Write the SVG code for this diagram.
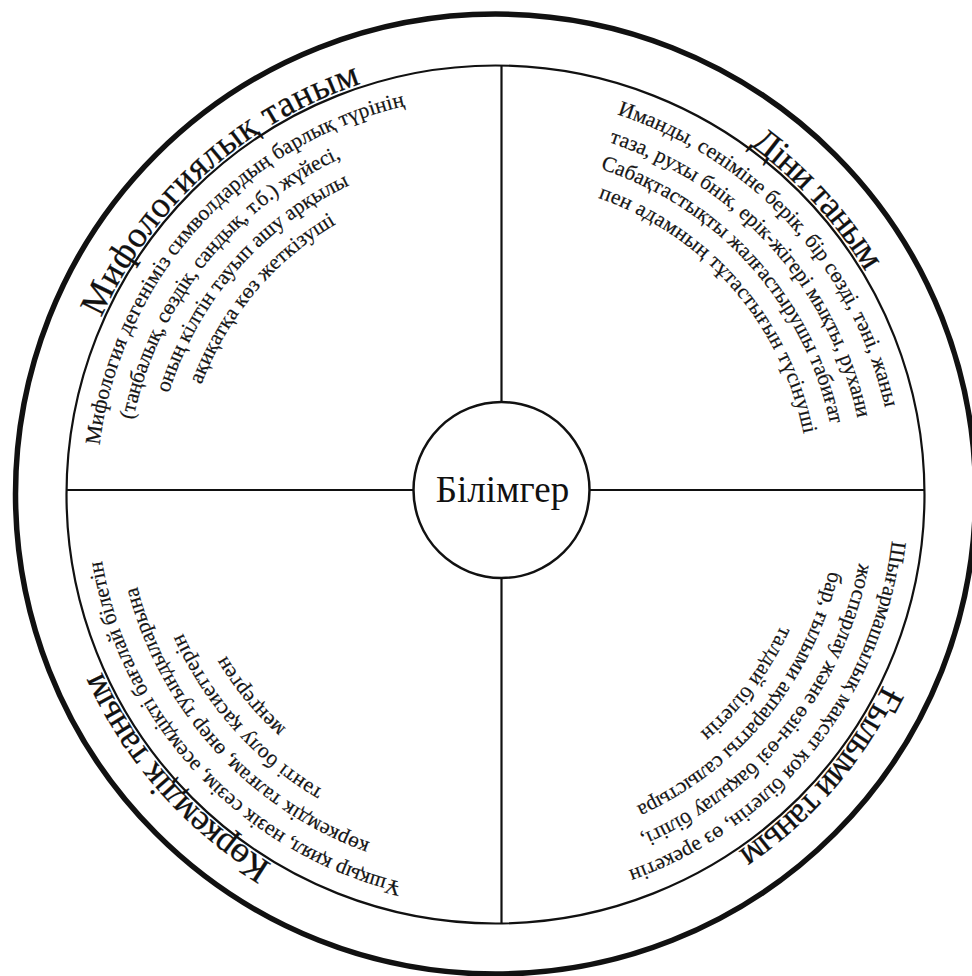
<svg xmlns="http://www.w3.org/2000/svg" xmlns:xlink="http://www.w3.org/1999/xlink" width="972" height="976" viewBox="0 0 972 976">
<style>
.ring{fill:none;stroke:#111;}
.line{stroke:#111;stroke-width:2.2;fill:none;}
.title{font-family:"Liberation Serif","DejaVu Serif",serif;font-size:36.5px;fill:#111;stroke:#111;stroke-width:0.25;}
.body{font-family:"Liberation Serif","DejaVu Serif",serif;font-size:21.5px;fill:#151515;stroke:#151515;stroke-width:0.2;}
.center{font-family:"Liberation Serif","DejaVu Serif",serif;font-size:37px;fill:#111;}
</style>
<defs>
<path id="a432" d="M65.15,456.85 A432,432 0 0 1 925.85,456.85"/>
<path id="a399" d="M98.02,459.72 A399,399 0 0 1 892.98,459.72"/>
<path id="a370" d="M126.91,462.25 A370,370 0 0 1 864.09,462.25"/>
<path id="a342" d="M154.80,464.69 A342,342 0 0 1 836.20,464.69"/>
<path id="a314" d="M182.70,467.13 A314,314 0 0 1 808.30,467.13"/>
</defs>
<rect width="972" height="976" fill="#fff"/>
<g id="rings">
<circle class="ring" cx="495.5" cy="494" r="480" stroke-width="5.5"/>
<circle class="ring" cx="495.5" cy="494.5" r="429" stroke-width="2.2"/>
</g>
<g id="connectors">
<line class="line" x1="66.5" y1="490" x2="924.5" y2="490"/>
<line class="line" x1="501.5" y1="65.5" x2="501.5" y2="923.5"/>
</g>
<g id="node-mythological">
<text class="title" text-anchor="middle" transform="rotate(-42 495.5 494.5)"><textPath xlink:href="#a432" href="#a432" startOffset="50%" textLength="360">Мифологиялық таным</textPath></text>
<text class="body" text-anchor="middle" transform="rotate(-48 495.5 494.5)"><textPath xlink:href="#a399" href="#a399" startOffset="50%" textLength="486">Мифология дегеніміз символдардың барлық түрінің</textPath></text>
<text class="body" text-anchor="middle" transform="rotate(-51.5 495.5 494.5)"><textPath xlink:href="#a370" href="#a370" startOffset="50%" textLength="347">(таңбалық, сөздік, сандық, т.б.) жүйесі,</textPath></text>
<text class="body" text-anchor="middle" transform="rotate(-49 495.5 494.5)"><textPath xlink:href="#a342" href="#a342" startOffset="50%" textLength="284">оның кілтін тауып ашу арқылы</textPath></text>
<text class="body" text-anchor="middle" transform="rotate(-50 495.5 494.5)"><textPath xlink:href="#a314" href="#a314" startOffset="50%" textLength="214">ақиқатқа көз жеткізуші</textPath></text>
</g>
<g id="node-religious">
<text class="title" text-anchor="middle" transform="rotate(47.5 495.5 494.5)"><textPath xlink:href="#a432" href="#a432" startOffset="50%" textLength="173">Діни таным</textPath></text>
<text class="body" text-anchor="middle" transform="rotate(47.6 495.5 494.5)"><textPath xlink:href="#a399" href="#a399" startOffset="50%" textLength="416">Иманды, сеніміне берік, бір сөзді, тәні, жаны</textPath></text>
<text class="body" text-anchor="middle" transform="rotate(48 495.5 494.5)"><textPath xlink:href="#a370" href="#a370" startOffset="50%" textLength="389">таза, рухы бнік, ерік-жігері мықты, рухани</textPath></text>
<text class="body" text-anchor="middle" transform="rotate(48 495.5 494.5)"><textPath xlink:href="#a342" href="#a342" startOffset="50%" textLength="360">Сабақтастықты жалғастырушы табиғат</textPath></text>
<text class="body" text-anchor="middle" transform="rotate(49 495.5 494.5)"><textPath xlink:href="#a314" href="#a314" startOffset="50%" textLength="328">пен адамның тұтастығын түсінуші</textPath></text>
</g>
<g id="node-scientific">
<text class="title" text-anchor="middle" transform="rotate(131 495.5 494.5)"><textPath xlink:href="#a432" href="#a432" startOffset="50%" textLength="224">Ғылыми таным</textPath></text>
<text class="body" text-anchor="middle" transform="rotate(128.6 495.5 494.5)"><textPath xlink:href="#a399" href="#a399" startOffset="50%" textLength="445">Шығармашылық мақсат қоя білетін, өз әрекетін</textPath></text>
<text class="body" text-anchor="middle" transform="rotate(128.9 495.5 494.5)"><textPath xlink:href="#a370" href="#a370" startOffset="50%" textLength="364">жоспарлау және өзін-өзі бақылау білігі,</textPath></text>
<text class="body" text-anchor="middle" transform="rotate(129.3 495.5 494.5)"><textPath xlink:href="#a342" href="#a342" startOffset="50%" textLength="315">бар, ғылыми ақпаратты салыстыра</textPath></text>
<text class="body" text-anchor="middle" transform="rotate(127 495.5 494.5)"><textPath xlink:href="#a314" href="#a314" startOffset="50%" textLength="135">талдай білетін</textPath></text>
</g>
<g id="node-artistic">
<text class="title" text-anchor="middle" transform="rotate(-131.5 495.5 494.5)"><textPath xlink:href="#a432" href="#a432" startOffset="50%" textLength="261">Көркемдік таным</textPath></text>
<text class="body" text-anchor="middle" transform="rotate(-133 495.5 494.5)"><textPath xlink:href="#a399" href="#a399" startOffset="50%" textLength="466">Ұшқыр қиял, нәзік сезім, әсемдікті бағалай білетін</textPath></text>
<text class="body" text-anchor="middle" transform="rotate(-132.3 495.5 494.5)"><textPath xlink:href="#a370" href="#a370" startOffset="50%" textLength="360">көркемдік талғам, өнер туындыларына</textPath></text>
<text class="body" text-anchor="middle" transform="rotate(-131.8 495.5 494.5)"><textPath xlink:href="#a342" href="#a342" startOffset="50%" textLength="214">тәнті болу қасиеттерін</textPath></text>
<text class="body" text-anchor="middle" transform="rotate(-129.5 495.5 494.5)"><textPath xlink:href="#a314" href="#a314" startOffset="50%" textLength="95">меңгерген</textPath></text>
</g>
<g id="node-center">
<circle cx="501.5" cy="490" r="88" fill="#fff" stroke="#111" stroke-width="2.5"/>
<text class="center" x="502.5" y="502" text-anchor="middle">Білімгер</text>
</g>
</svg>
